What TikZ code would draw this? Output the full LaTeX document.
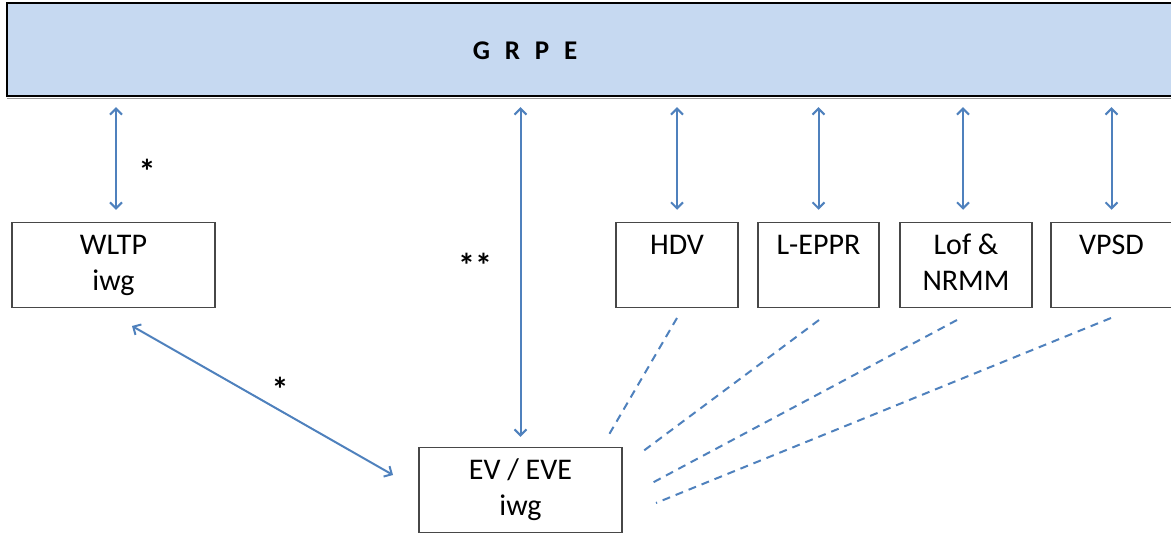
\documentclass[tikz,border=0pt]{standalone}
\usepackage{fontspec}
\setmainfont{Carlito}
\usetikzlibrary{arrows.meta}
\definecolor{arrowblue}{HTML}{4F81BD}
\definecolor{grpefill}{HTML}{C6D9F1}
\begin{document}
\begin{tikzpicture}[x=1pt,y=-1pt,
  wg/.style={draw=black!72, line width=1.5pt, fill=white, minimum height=85pt,
    inner sep=0pt, align=center, font=\fontsize{30}{36}\selectfont},
  link/.style={draw=arrowblue, line width=2pt,
    {Straight Barb[length=6pt,width=12pt]}-{Straight Barb[length=6pt,width=12pt]}},
  dashlink/.style={draw=arrowblue, line width=2pt, dash pattern=on 8pt off 6pt},
  star/.style={font=\fontsize{34}{34}\selectfont\bfseries, inner sep=0pt}]
\useasboundingbox (0,0) rectangle (1171,533);
% top bar (open to the right, runs off the page)
\node[fill=grpefill, minimum width=1260pt, minimum height=93pt, inner sep=0pt] (grpe) at (637,49.5) {};
\draw[black, line width=1.8pt] (grpe.north east) -- (grpe.north west) -- (grpe.south west) -- (grpe.south east);
\draw[black!40, line width=1.4pt] ([yshift=-2pt]grpe.south west) -- ([yshift=-2pt]grpe.south east);
\node[font=\fontsize{27}{30}\selectfont\bfseries] (grpelbl) at (525,51)
  {G\hspace{0.55em}R\hspace{0.55em}P\hspace{0.55em}E};
% boxes
\node[wg, minimum width=203pt] (wltp) at (113.5,265) {\strut WLTP\\\strut iwg};
\node[wg, minimum width=122pt] (hdv) at (677,265) {\strut HDV\\\strut};
\node[wg, minimum width=121pt] (leppr) at (818.5,265) {\strut L-EPPR\\\strut};
\node[wg, minimum width=132pt] (lof) at (966,265) {\strut Lof \&\\\strut NRMM};
\node[wg, minimum width=121pt] (vpsd) at (1111.5,265) {\strut VPSD\\\strut};
\node[wg, minimum width=203pt] (ev) at (520.5,490) {\strut EV / EVE\\\strut iwg};
% arrows from GRPE
\draw[link, shorten <=11pt, shorten >=12pt] ([xshift=2.5pt]grpe.south -| wltp.north) -- ([xshift=2.5pt]wltp.north);
\draw[link, shorten <=11pt, shorten >=10pt] (grpe.south -| ev.north) -- (ev.north);
\draw[link, shorten <=11pt, shorten >=12pt] (grpe.south -| hdv.north) -- (hdv.north);
\draw[link, shorten <=11pt, shorten >=12pt] (grpe.south -| leppr.north) -- (leppr.north);
\draw[link, shorten <=11pt, shorten >=12pt] ([xshift=-3pt]grpe.south -| lof.north) -- ([xshift=-3pt]lof.north);
\draw[link, shorten <=11pt, shorten >=12pt] (grpe.south -| vpsd.north) -- (vpsd.north);
% WLTP <-> EV
\coordinate (d1) at (132,326);
\coordinate (d2) at (393,475);
\draw[link] (d1) -- (d2);
% dashed lines
\coordinate (h1) at (677,318);  \coordinate (h2) at (607,438);
\coordinate (l1) at (819,320);  \coordinate (l2) at (642,452);
\coordinate (f1) at (957,320);  \coordinate (f2) at (652,483);
\coordinate (v1) at (1111,318); \coordinate (v2) at (656,503);
\draw[dashlink] (h1) -- (h2);
\draw[dashlink] (l1) -- (l2);
\draw[dashlink] (f1) -- (f2);
\draw[dashlink] (v1) -- (v2);
% stars
\node[star] (s1) at (147,171) {*};
\node[star] (s2) at (475,265) {**};
\node[star] (s3) at (280,389) {*};
\end{tikzpicture}
\end{document}
